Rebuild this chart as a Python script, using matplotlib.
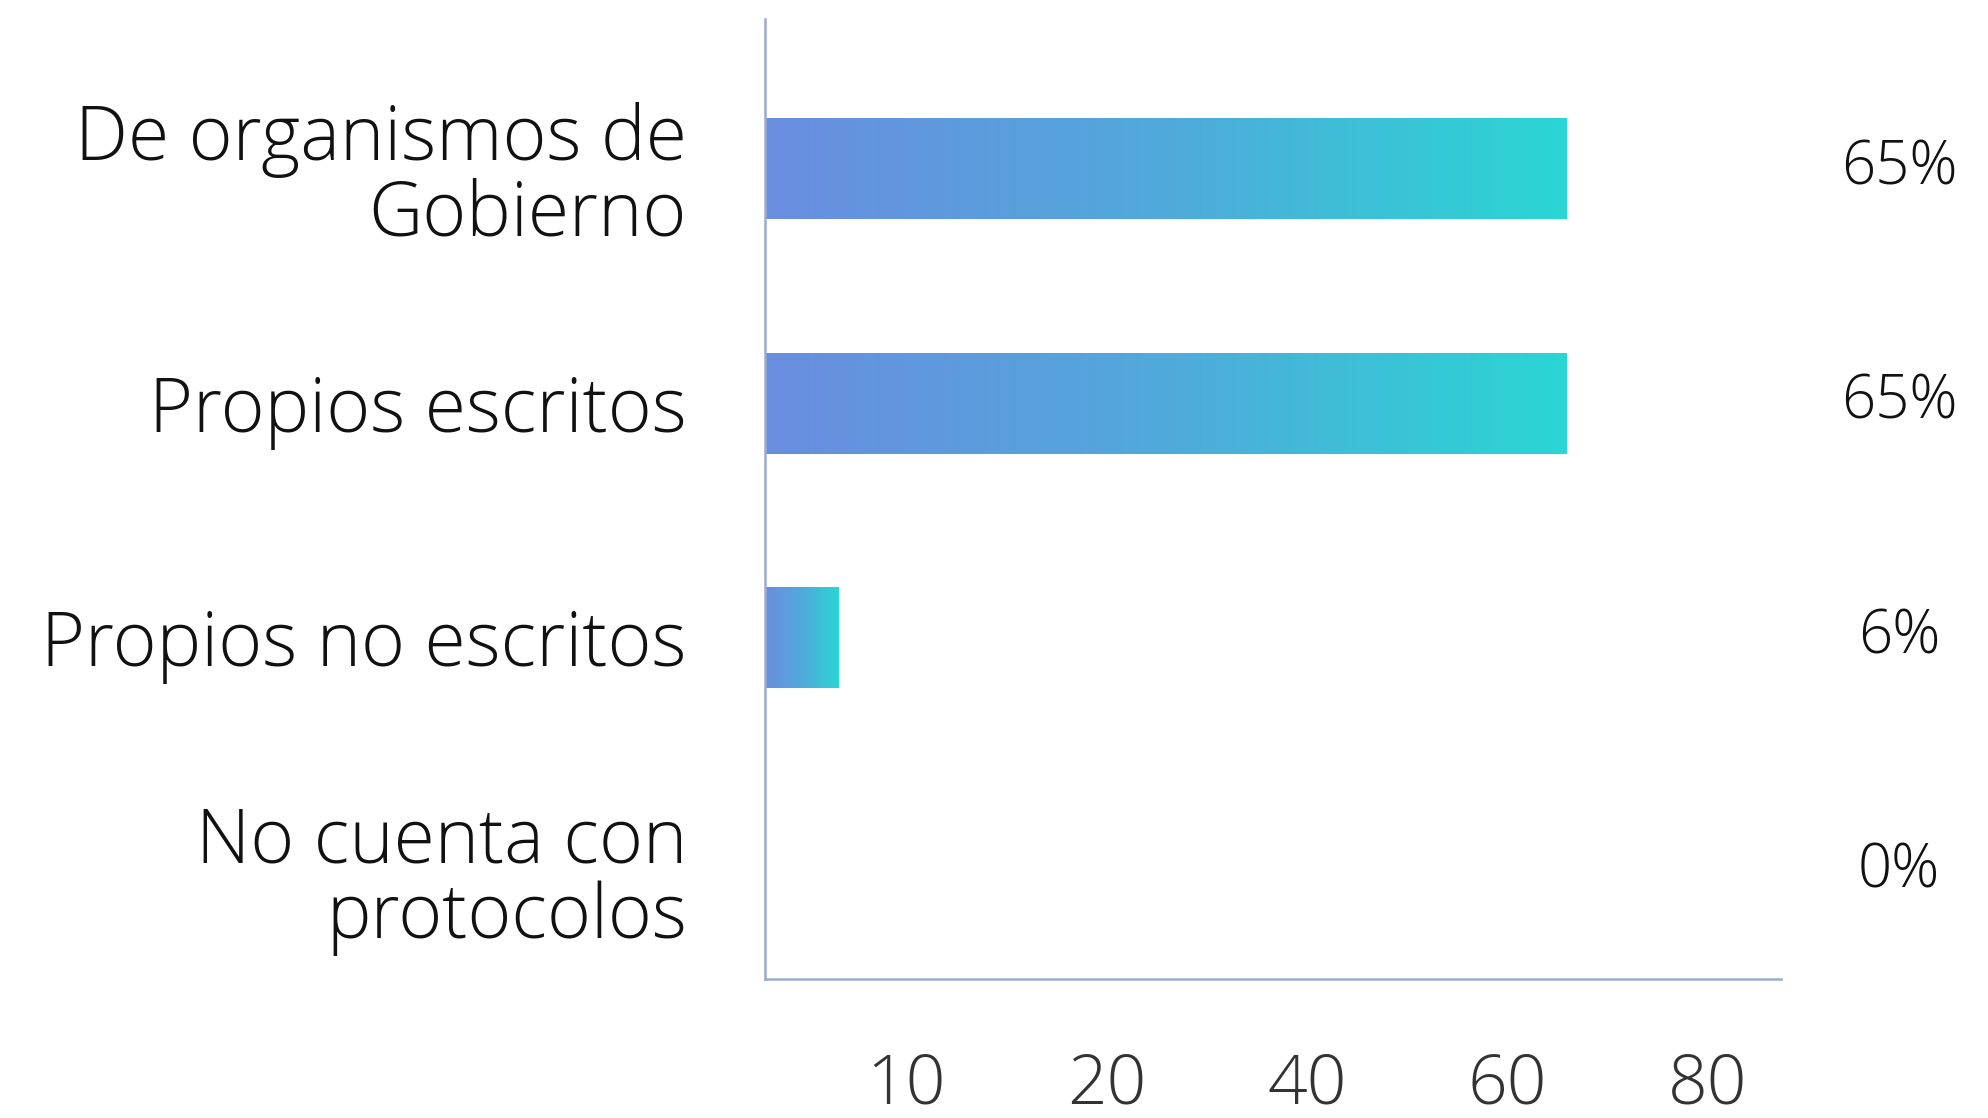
import numpy as np
import matplotlib.pyplot as plt
from matplotlib.colors import LinearSegmentedColormap

categories = ["De organismos de\nGobierno", "Propios escritos",
              "Propios no escritos", "No cuenta con\nprotocolos"]
values = [65, 65, 6, 0]
value_labels = ["65%", "65%", "6%", "0%"]
tick_labels = ["10", "20", "40", "60", "80"]

plt.rcParams['font.family'] = ['Open Sans', 'DejaVu Sans']

grad = LinearSegmentedColormap.from_list("bar", ["#6a8de0", "#50aadb", "#2ad6d4"])
axis_color = "#9aaccc"

fig = plt.figure(figsize=(19.88, 11.18), dpi=100)
ax = fig.add_axes([0.3846, 0.124, 0.5115, 0.859])

# gradient bars, each one runs blue -> cyan over its own length
bar_h = 0.43
strip = np.linspace(0, 1, 256).reshape(1, -1)
for i, v in enumerate(values):
    if v > 0:
        ax.imshow(strip, cmap=grad, aspect='auto', interpolation='bilinear',
                  extent=[0, v, i + bar_h / 2, i - bar_h / 2], zorder=2)

ax.set_xlim(0, 82.5)
ax.set_ylim(3.46, -0.64)

ax.set_yticks(range(len(categories)))
ax.set_yticklabels(categories, fontsize=54, fontweight='light',
                   linespacing=1.0, color='#111111')
ax.tick_params(axis='y', length=0, pad=56)

# tick labels are spread evenly under the axis, as in the source chart
ax.set_xticks(np.linspace(11.5, 76.5, len(tick_labels)))
ax.set_xticklabels(tick_labels, fontsize=50, fontweight='light', color='#333333')
ax.tick_params(axis='x', length=0, pad=52)

for s in ['top', 'right']:
    ax.spines[s].set_visible(False)
for s in ['left', 'bottom']:
    ax.spines[s].set_color(axis_color)
    ax.spines[s].set_linewidth(1.8)

lab_x = 1.0 + (1899 / 1988 - 0.896) / 0.5115
for i, lab in enumerate(value_labels):
    ax.text(lab_x, i, lab, transform=ax.get_yaxis_transform(),
            ha='center', va='center',
            fontsize=43, fontweight='light', color='#111111')

fig.savefig("out.png", dpi=100, facecolor='white')
